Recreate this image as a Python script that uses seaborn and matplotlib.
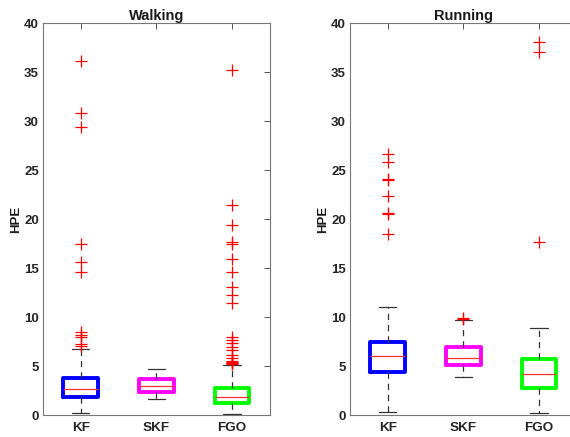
import numpy as np
import pandas as pd
import matplotlib
matplotlib.use("Agg")
import matplotlib.pyplot as plt
import seaborn as sns

methods = ["KF", "SKF", "FGO"]
box_colors = ["#0000ff", "#ff00ff", "#00ff00"]

# five-number summaries: lower whisker, q1, median, q3, upper whisker
walk_kf = [0.17, 1.8, 2.63, 3.8, 6.77]
walk_skf = [1.64, 2.32, 3.0, 3.69, 4.65]
walk_fgo = [0.07, 1.2, 1.81, 2.74, 5.09]
run_kf = [0.27, 4.44, 5.98, 7.45, 11.04]
run_skf = [3.83, 5.13, 5.78, 6.97, 9.7]
run_fgo = [0.17, 2.73, 4.17, 5.7, 8.89]

# outliers
walk_kf_out = [36.1, 30.8, 29.4, 17.5, 15.6, 14.6, 8.5, 8.2, 7.95, 7.2, 7.05]
walk_skf_out = []
walk_fgo_out = [35.2, 21.4, 19.4, 17.7, 17.5, 15.9, 14.6, 13.1, 12.2, 11.45,
                7.97, 7.65, 7.35, 6.95, 6.6, 6.1, 5.8, 5.5, 5.42, 5.35, 5.28, 5.22]
run_kf_out = [26.6, 25.8, 24.05, 23.95, 22.4, 20.6, 20.5, 18.5]
run_skf_out = [9.85, 9.75]
run_fgo_out = [38.05, 37.0, 17.7]


def make_frames(boxes, outs):
    bdf = pd.DataFrame({"method": np.repeat(methods, 5),
                        "HPE": np.concatenate(boxes)})
    odf = pd.DataFrame({"method": [m for m, o in zip(methods, outs) for _ in o],
                        "HPE": [v for o in outs for v in o]})
    return bdf, odf


sns.set_style("white")
plt.rcParams["font.family"] = ["Liberation Sans", "DejaVu Sans"]

fig = plt.figure(figsize=(5.7, 4.37), dpi=100)
ax1 = fig.add_axes([0.0754, 0.0503, 0.398, 0.897])
ax2 = fig.add_axes([0.614, 0.0503, 0.398, 0.897])

panels = [(ax1, "Walking", [walk_kf, walk_skf, walk_fgo], [walk_kf_out, walk_skf_out, walk_fgo_out]),
          (ax2, "Running", [run_kf, run_skf, run_fgo], [run_kf_out, run_skf_out, run_fgo_out])]

for ax, title, boxes, outs in panels:
    bdf, odf = make_frames(boxes, outs)
    sns.boxplot(data=bdf, x="method", y="HPE", hue="method", order=methods,
                palette=box_colors, fill=False, whis=np.inf, width=0.46,
                legend=False, ax=ax,
                boxprops={"linewidth": 2.8},
                medianprops={"color": "#ff3030", "linewidth": 0.9},
                whiskerprops={"color": "#333333", "linewidth": 0.9, "linestyle": (0, (5, 4))},
                capprops={"color": "#333333", "linewidth": 0.9})
    sns.stripplot(data=odf, x="method", y="HPE", order=methods, jitter=False,
                  marker="+", color="red", size=8, linewidth=0.9, ax=ax)
    ax.set_xlim(-0.5, 2.5)
    ax.set_ylim(0, 40)
    ax.set_yticks(np.arange(0, 41, 5))
    ax.set_xlabel("")
    ax.set_ylabel("HPE", fontsize=9.5, fontweight="bold", color="#1a1a1a", labelpad=1)
    ax.set_title(title, fontsize=10.5, fontweight="bold", color="#1a1a1a", pad=2)
    ax.tick_params(direction="in", length=4, width=0.7, colors="#555555",
                   top=True, right=True, labelcolor="#262626")
    ax.tick_params(axis="x", labelsize=9.7, pad=5)
    ax.tick_params(axis="y", labelsize=9.5, pad=3)
    for lab in ax.get_xticklabels() + ax.get_yticklabels():
        lab.set_fontweight("bold")
    for sp in ax.spines.values():
        sp.set_visible(True)
        sp.set_color("#777777")
        sp.set_linewidth(0.8)

fig.savefig("out.png", dpi=100)
